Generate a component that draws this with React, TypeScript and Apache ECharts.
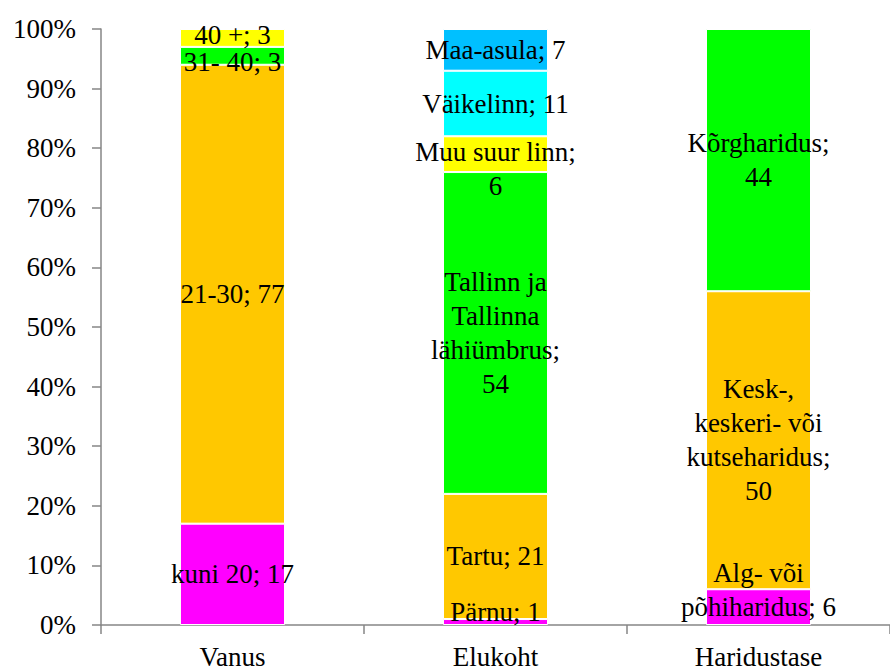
import { useEffect, useRef } from 'react';
import * as echarts from 'echarts';

// Respondent profile: share of each group within every dimension (100% stacked)
const categories = ['Vanus', 'Elukoht', 'Haridustase'];

const vanusGroups = ['kuni 20', '21-30', '31- 40', '40 +'];
const vanusValues = [17, 77, 3, 3];

const elukohtGroups = [
  'Pärnu',
  'Tartu',
  'Tallinn ja\nTallinna\nlähiümbrus',
  'Muu suur linn',
  'Väikelinn',
  'Maa-asula',
];
const elukohtValues = [1, 21, 54, 6, 11, 7];

const haridusGroups = ['Alg- või\npõhiharidus', 'Kesk-,\nkeskeri- või\nkutseharidus', 'Kõrgharidus'];
const haridusValues = [6, 50, 44];

// groups whose value is printed on a line of its own
const valueOnOwnLine = ['Tallinn ja\nTallinna\nlähiümbrus', 'Muu suur linn', 'Kesk-,\nkeskeri- või\nkutseharidus', 'Kõrgharidus'];

// one colour per stacking level (bottom to top)
const levelColors = ['#FF00FF', '#FFC800', '#00FF00', '#FFFF00', '#00FFFF', '#00C0FF'];

// vertical nudges for labels of thin segments so they stay readable
const labelNudge: Record<string, number> = {
  '31- 40': 6,
  '40 +': -3,
  'Pärnu': -10,
  'Muu suur linn': 15,
  'Alg- või\npõhiharidus': -17,
};

const FONT = 'serif';

export default function App() {
  const ref = useRef<HTMLDivElement>(null);

  useEffect(() => {
    if (!ref.current) return;
    const chart = echarts.init(ref.current, null, { renderer: 'svg' });

    const groupsByCat = [vanusGroups, elukohtGroups, haridusGroups];
    const valuesByCat = [vanusValues, elukohtValues, haridusValues];
    const levels = Math.max(...valuesByCat.map((v) => v.length));

    const series = Array.from({ length: levels }, (_, level) => ({
      type: 'bar' as const,
      stack: 'total',
      barWidth: 105,
      itemStyle: { color: levelColors[level], borderColor: '#ffffff', borderWidth: 1 },
      label: {
        show: true,
        position: 'inside' as const,
        color: '#000000',
        fontFamily: FONT,
        fontSize: 27,
        lineHeight: 34,
        align: 'center' as const,
        formatter: (p: any) => {
          const name = groupsByCat[p.dataIndex][level];
          const sep = valueOnOwnLine.includes(name) ? ';\n' : '; ';
          return `${name}${sep}${p.value}`;
        },
      },
      data: categories.map((_, ci) => {
        const v = valuesByCat[ci][level];
        if (v === undefined) return '-';
        const name = groupsByCat[ci][level];
        const dy = labelNudge[name] ?? 0;
        return dy ? { value: v, label: { offset: [0, dy] } } : v;
      }),
    }));

    chart.setOption({
      animation: false,
      textStyle: { fontFamily: FONT },
      grid: { left: 101, right: -9, top: 29, bottom: 45, containLabel: false },
      xAxis: {
        type: 'category',
        data: categories,
        axisLine: { lineStyle: { color: '#868686', width: 1.5 } },
        axisTick: { show: true, length: 9, alignWithLabel: false, lineStyle: { color: '#868686', width: 1.5 } },
        axisLabel: { color: '#000000', fontFamily: FONT, fontSize: 27, margin: 18 },
        splitLine: { show: false },
      },
      yAxis: {
        type: 'value',
        min: 0,
        max: 100,
        interval: 10,
        axisLine: { show: true, lineStyle: { color: '#868686', width: 1.5 } },
        axisTick: { show: true, length: 9, lineStyle: { color: '#868686', width: 1.5 } },
        axisLabel: { color: '#000000', fontFamily: FONT, fontSize: 27, margin: 25, formatter: '{value}%' },
        splitLine: { show: false },
      },
      series,
    });

    return () => chart.dispose();
  }, []);

  return (
    <div
      ref={ref}
      style={{ position: 'fixed', left: 0, top: 0, width: 890, height: 670, background: '#ffffff' }}
    />
  );
}
